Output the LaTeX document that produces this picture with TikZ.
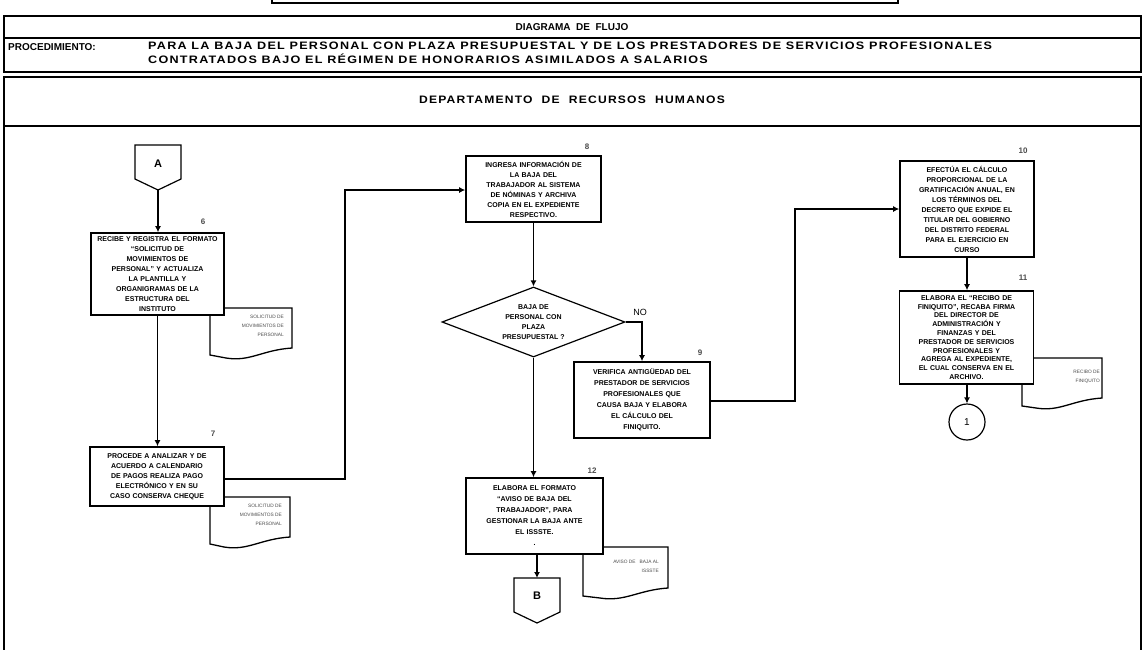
\documentclass[tikz,border=0pt]{standalone}
\usepackage{fontspec}
\setmainfont{Liberation Sans}
\newfontfamily\widefont[LetterSpace=10]{Liberation Sans}
\usetikzlibrary{arrows.meta,shapes.geometric}

\newcommand{\boxfont}{\fontsize{7}{10}\selectfont\bfseries}
\newcommand{\docfont}{\fontsize{4.8}{8.8}\selectfont}
\newcommand{\widetext}[1]{\scalebox{1.26}[1.08]{\widefont\bfseries #1}}
\newcommand{\depttext}[1]{\scalebox{1.21}[1.08]{\widefont\bfseries #1}}

\tikzset{
  frame/.style={line width=1.3pt},
  hdr/.style={font=\fontsize{10}{12}\selectfont, inner sep=0pt},
  stepbox/.style={draw, line width=1.6pt, fill=white, align=center, inner sep=1pt,
    font=\boxfont},
  decision/.style={draw, diamond, line width=1.2pt, fill=white, align=center,
    inner sep=0pt, aspect=2.6, font=\boxfont},
  offpage/.style={draw, line width=1.2pt, fill=white},
  arrow/.style={line width=1.4pt, -{Latex[length=6pt,width=6pt]}},
  docshape/.style={draw, line width=1.3pt, fill=white},
  doctext/.style={align=right, font=\docfont, text=black!70, inner sep=0pt, anchor=north east},
  stepnum/.style={font=\fontsize{8}{9}\selectfont\bfseries, text=black!70, inner sep=0pt},
}

\begin{document}
\begin{tikzpicture}[x=1pt, y=-1pt]
\useasboundingbox (0,0) rectangle (1144,649);

% ---------- header frames ----------
\draw[frame] (272,-10) -- (272,3) -- (898,3) -- (898,-10);
\draw[frame] (4,16) rectangle (1141,72);
\draw[frame] (4,38) -- (1141,38);
\draw[frame] (4,660) -- (4,77) -- (1141,77) -- (1141,660);
\draw[frame] (4,126) -- (1141,126);

\node[hdr, font=\fontsize{10}{12}\selectfont\bfseries] (title) at (572,27) {DIAGRAMA\ \ DE\ \ FLUJO};
\node[hdr, anchor=west] (proclbl) at (8,47) {\bfseries PROCEDIMIENTO:};
\node[hdr, anchor=west] (proc1) at (148,46)
  {\widetext{PARA LA BAJA DEL PERSONAL CON PLAZA PRESUPUESTAL Y DE LOS PRESTADORES DE SERVICIOS PROFESIONALES}};
\node[hdr, anchor=west] (proc2) at (148,59)
  {\widetext{CONTRATADOS BAJO EL RÉGIMEN DE HONORARIOS ASIMILADOS A SALARIOS}};
\node[hdr] (dept) at (572,100) {\depttext{DEPARTAMENTO\ \ DE\ \ RECURSOS\ \ HUMANOS}};

% ---------- documents (drawn first, boxes overlap them) ----------
\draw[docshape] (210,308) -- (292,308) -- (292,348)
  .. controls (262,350) and (250,362) .. (226,358) -- (210,355) -- cycle;
\node[doctext] (doc6) at (284,315) {SOLICITUD DE\\MOVIMIENTOS DE\\PERSONAL};

\draw[docshape] (210,497) -- (290,497) -- (290,537)
  .. controls (260,539) and (248,551) .. (224,547) -- (210,544) -- cycle;
\node[doctext] (doc7) at (282,504) {SOLICITUD DE\\MOVIMIENTOS DE\\PERSONAL};

\draw[docshape] (583,547) -- (668,547) -- (668,588)
  .. controls (638,590) and (625,602) .. (600,598) -- (583,596) -- cycle;
\node[doctext] (doc12) at (659,560) {AVISO DE\ \ \ BAJA AL\\ISSSTE};

\draw[docshape] (1022,358) -- (1102,358) -- (1102,398)
  .. controls (1072,400) and (1060,412) .. (1036,408) -- (1022,406) -- cycle;
\node[doctext] (doc11) at (1100,370) {RECIBO DE\\FINIQUITO};

% ---------- off-page connectors ----------
\draw[offpage] (135,145) -- (181,145) -- (181,179) -- (158,190) -- (135,179) -- cycle;
\node[font=\fontsize{11}{12}\selectfont\bfseries] (A) at (158,164) {A};
\coordinate (Atip) at (158,190);

\draw[offpage] (514,578) -- (560,578) -- (560,612) -- (537,623) -- (514,612) -- cycle;
\node[font=\fontsize{11}{12}\selectfont\bfseries] (B) at (537,596) {B};
\coordinate (Btop) at (537,578);

% ---------- process steps ----------
\node[stepbox, minimum width=133pt, minimum height=82pt, text width=131pt] (s6) at (157.5,274)
  {RECIBE Y REGISTRA EL FORMATO\\``SOLICITUD DE\\MOVIMIENTOS DE\\PERSONAL'' Y ACTUALIZA\\LA PLANTILLA Y\\ORGANIGRAMAS DE LA\\ESTRUCTURA DEL\\INSTITUTO};
\node[stepnum] at (203,222) {6};

\node[stepbox, minimum width=134pt, minimum height=59pt, text width=132pt] (s7) at (157,476.5)
  {PROCEDE A ANALIZAR Y DE\\ACUERDO A CALENDARIO\\DE PAGOS REALIZA PAGO\\ELECTRÓNICO Y EN SU\\CASO CONSERVA CHEQUE};
\node[stepnum] at (213,434) {7};

\node[stepbox, minimum width=135pt, minimum height=66pt, text width=133pt] (s8) at (533.5,189)
  {INGRESA INFORMACIÓN DE\\LA BAJA DEL\\TRABAJADOR AL SISTEMA\\DE NÓMINAS Y ARCHIVA\\COPIA EN EL EXPEDIENTE\\RESPECTIVO.};
\node[stepnum] at (587,147) {8};

\node[decision, minimum width=183pt, minimum height=70pt] (d1) at (533.5,322)
  {BAJA DE\\PERSONAL CON\\PLAZA\\PRESUPUESTAL ?};
\node[font=\fontsize{9}{10}\selectfont, inner sep=0pt] (no) at (640,312) {NO};

\node[stepbox, minimum width=136pt, minimum height=76pt, text width=134pt,
  font=\fontsize{7}{11}\selectfont\bfseries] (s9) at (642,400)
  {VERIFICA ANTIGÜEDAD DEL\\PRESTADOR DE SERVICIOS\\PROFESIONALES QUE\\CAUSA BAJA Y ELABORA\\EL CÁLCULO DEL\\FINIQUITO.};
\node[stepnum] at (700,353) {9};

\node[stepbox, minimum width=134pt, minimum height=96pt, text width=132pt] (s10) at (967,209)
  {EFECTÚA EL CÁLCULO\\PROPORCIONAL DE LA\\GRATIFICACIÓN ANUAL, EN\\LOS TÉRMINOS DEL\\DECRETO QUE EXPIDE EL\\TITULAR DEL GOBIERNO\\DEL DISTRITO FEDERAL\\PARA EL EJERCICIO EN\\CURSO};
\node[stepnum] at (1023,151) {10};

\node[stepbox, minimum width=134pt, minimum height=93pt, text width=132pt,
  font=\fontsize{7}{8.8}\selectfont\bfseries] (s11) at (966.5,337.5)
  {ELABORA EL ``RECIBO DE\\FINIQUITO'', RECABA FIRMA\\DEL DIRECTOR DE\\ADMINISTRACIÓN Y\\FINANZAS Y DEL\\PRESTADOR DE SERVICIOS\\PROFESIONALES Y\\AGREGA AL EXPEDIENTE,\\EL CUAL CONSERVA EN EL\\ARCHIVO.};
\node[stepnum] at (1023,278) {11};

\node[stepbox, minimum width=137pt, minimum height=76pt, text width=135pt,
  font=\fontsize{7}{11}\selectfont\bfseries] (s12) at (534.5,516)
  {ELABORA EL FORMATO\\``AVISO DE BAJA DEL\\TRABAJADOR'', PARA\\GESTIONAR LA BAJA ANTE\\EL ISSSTE.\\.\\[-2pt]};
\node[stepnum] at (592,471) {12};

\node[draw, circle, line width=1.2pt, minimum size=36pt, inner sep=0pt,
  font=\fontsize{10}{12}\selectfont] (c1) at (967,422) {1};

% ---------- connectors ----------
\draw[arrow] (Atip) -- (s6.north -| Atip);
\draw[arrow] (s6.south) -- (s7.north -| s6.south);
\draw[arrow] (s7.east |- 0,479) -- (345,479) -- (345,190) -- (s8.west |- 0,190);
\draw[arrow] (s8.south) -- (d1.north);
\draw[arrow] (d1.east) -- (d1.east -| s9.north) -- (s9.north);
\draw[arrow] (d1.south) -- (s12.north -| d1.south);
\draw[arrow] (s9.east |- 0,401) -- (795,401) -- (795,209) -- (s10.west |- 0,209);
\draw[arrow] (s10.south) -- (s11.north -| s10.south);
\draw[arrow] (s11.south -| c1.north) -- (c1.north);
\draw[arrow] (s12.south -| Btop) -- (Btop);

\end{tikzpicture}
\end{document}
